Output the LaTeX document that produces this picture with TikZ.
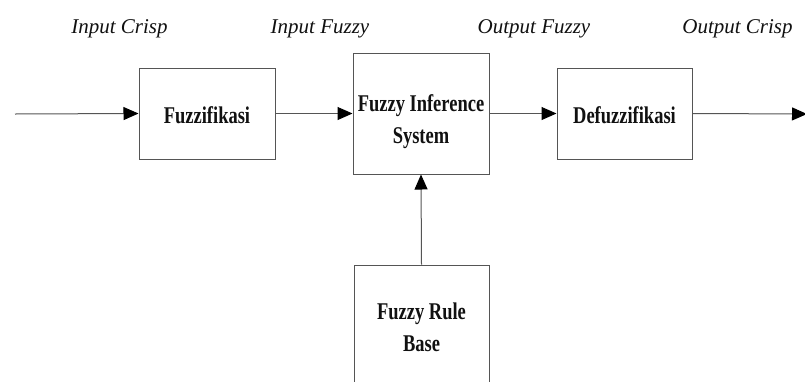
\documentclass[tikz,border=0pt]{standalone}
\usepackage{fontspec}
\setmainfont{Liberation Serif}
\newfontfamily\bxfont{Liberation Serif}[FakeStretch=0.77]
\usetikzlibrary{arrows.meta}
\definecolor{linegray}{HTML}{555555}
\definecolor{txt}{HTML}{111111}
\newcommand{\twolines}[3]{\raisebox{#1}[0pt][0pt]{\begin{tabular}{@{}c@{}}#2\\#3\end{tabular}}}
\newcommand{\oneline}[2]{\raisebox{#1}[0pt][0pt]{#2}}
\tikzset{
  blk/.style={draw=linegray, line width=1pt, fill=white, align=center,
    text=txt, font=\bxfont\bfseries\fontsize{24}{32}\selectfont, inner sep=0pt},
  lbl/.style={anchor=base, text=txt, font=\itshape\fontsize{21}{25}\selectfont, inner sep=0pt},
  conn/.style={draw=linegray, line width=1pt, -{Triangle[length=15pt,width=13pt,fill=black,color=black]}}
}
\begin{document}
\begin{tikzpicture}[x=1pt,y=-1pt]
\clip (0,0) rectangle (805,381);
\fill[white] (0,0) rectangle (805,381);
\node[blk, minimum width=136pt, minimum height=91pt] (fuz) at (207,113.5) {\oneline{-9.5pt}{Fuzzifikasi}};
\node[blk, minimum width=136pt, minimum height=121pt] (fis) at (421,113.5) {\twolines{-14pt}{Fuzzy Inference}{System}};
\node[blk, minimum width=135pt, minimum height=91pt] (def) at (624.5,113.5) {\oneline{-9.5pt}{Defuzzifikasi}};
\node[blk, minimum width=135pt, minimum height=121pt] (rule) at (421.5,325.5) {\twolines{-10pt}{Fuzzy Rule}{Base}};
\coordinate (in) at (15,114);
\coordinate (out) at (807,114);
\draw[conn] (in) -- (fuz.west);
\draw[conn] (fuz.east) -- (fis.west);
\draw[conn] (fis.east) -- (def.west);
\draw[conn] (def.east) -- (out);
\draw[conn] (rule.north) -- (fis.south);
\node[lbl] (l1) at (119.5,33) {Input Crisp};
\node[lbl] (l2) at (320,33) {Input Fuzzy};
\node[lbl] (l3) at (534,33) {Output Fuzzy};
\node[lbl] (l4) at (737.5,33) {Output Crisp};
\end{tikzpicture}
\end{document}
